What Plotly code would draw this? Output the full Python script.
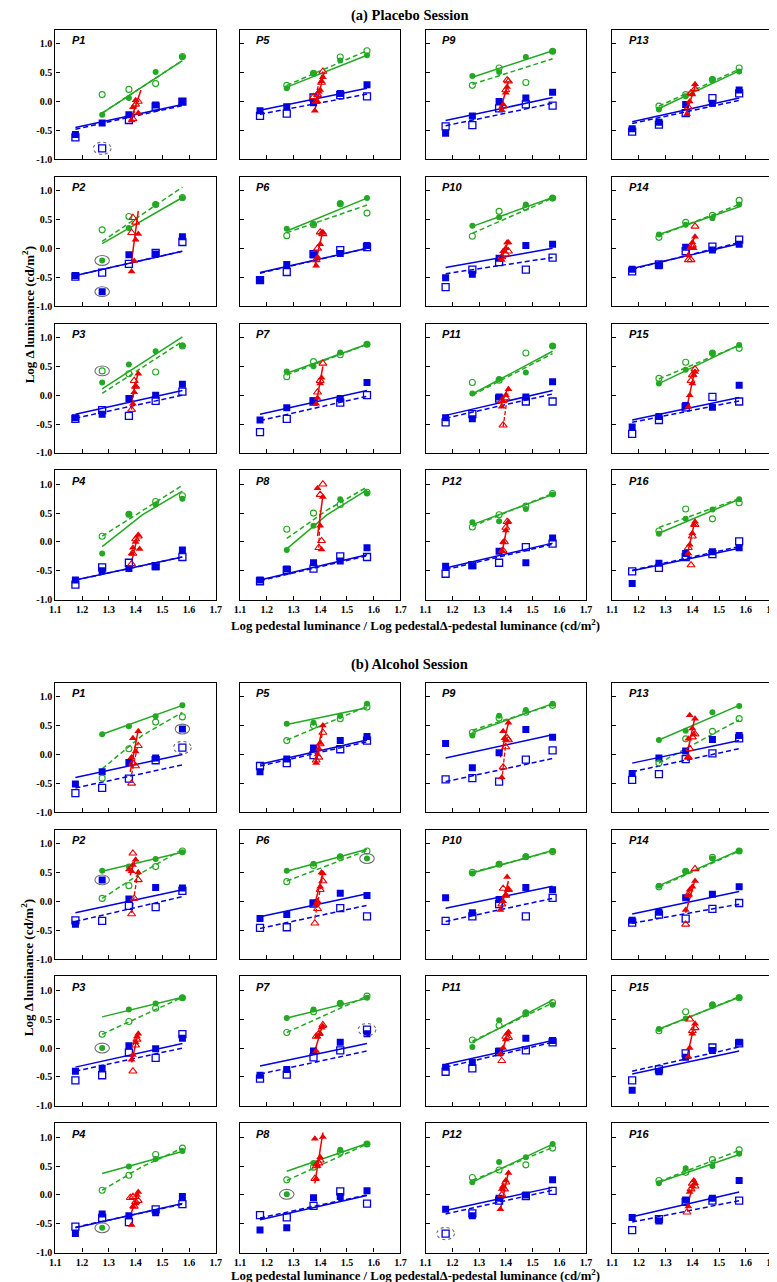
import numpy as np
import plotly.graph_objects as go

# ---------------- data ----------------
X_BLUE = [1.175, 1.275, 1.375, 1.475, 1.575]
X_GREEN = [1.275, 1.375, 1.475, 1.575]
X_TICKS = [1.1, 1.2, 1.3, 1.4, 1.5, 1.6, 1.7]
X_TICK_TEXT = ["1.1", "1.2", "1.3", "1.4", "1.5", "1.6", "1.7"]
Y_TICKS = [-1.0, -0.5, 0.0, 0.5, 1.0]
Y_TICK_TEXT = ["-1.0", "-0.5", "0.0", "0.5", "1.0"]
PANEL_NAMES = ["P%d" % i for i in range(1, 17)]

# ---- Placebo session (P1..P16) ----
GF_PL = [[-0.23, 0.06, 0.51, 0.77], [-0.21, 0.35, 0.76, 0.87], [0.22, 0.53, 0.76, 0.86], [-0.20, 0.48, 0.65, 0.75],
         [0.23, 0.49, 0.71, 0.80], [0.34, 0.42, 0.78, 0.87], [0.41, 0.50, 0.74, 0.88], [-0.14, 0.28, 0.74, 0.84],
         [0.44, 0.51, 0.77, 0.87], [0.39, 0.54, 0.76, 0.87], [0.03, 0.28, 0.39, 0.85], [0.34, 0.36, 0.57, 0.82],
         [-0.14, 0.09, 0.39, 0.52], [0.24, 0.41, 0.52, 0.76], [0.20, 0.44, 0.73, 0.87], [0.14, 0.40, 0.56, 0.74]]
GO_PL = [[0.12, 0.21, 0.31, 0.78], [0.32, 0.55, 0.76, 0.88], [0.42, 0.37, 0.40, 0.85], [0.10, 0.48, 0.70, 0.80],
         [0.28, 0.49, 0.77, 0.88], [0.22, 0.41, 0.77, 0.61], [0.32, 0.58, 0.70, 0.88], [0.22, 0.50, 0.65, 0.86],
         [0.28, 0.58, 0.33, 0.87], [0.21, 0.64, 0.71, 0.87], [0.22, 0.26, 0.73, 0.85], [0.26, 0.47, 0.62, 0.84],
         [-0.08, 0.12, 0.38, 0.58], [0.19, 0.45, 0.57, 0.83], [0.29, 0.57, 0.73, 0.81], [0.19, 0.57, 0.40, 0.68]]
GLS_PL = [[-0.20, 0.71], [0.08, 0.88], [0.11, 1.01], [-0.08, 0.47, 0.88],
          [0.25, 0.80], [0.30, 0.87], [0.38, 0.88], [-0.12, 0.47, 0.90],
          [0.42, 0.88], [0.38, 0.88], [0.02, 0.76], [0.30, 0.82],
          [-0.12, 0.53], [0.24, 0.72], [0.20, 0.87], [0.15, 0.74]]
GLD_PL = [[-0.20, 0.71], [0.12, 1.06], [0.03, 0.93], [0.10, 0.98],
          [0.28, 0.88], [0.27, 0.75], [0.35, 0.88], [0.06, 0.55, 0.95],
          [0.30, 0.74], [0.26, 0.87], [0.00, 0.72], [0.27, 0.84],
          [-0.08, 0.56], [0.22, 0.76], [0.28, 0.86], [0.25, 0.75]]
BF_PL = [[-0.57, -0.37, -0.23, -0.06, 0.00], [-0.47, -0.75, -0.11, -0.10, 0.20], [-0.39, -0.33, -0.06, 0.00, 0.19],
         [-0.66, -0.50, -0.46, -0.43, -0.14], [-0.16, -0.09, -0.02, 0.14, 0.29], [-0.55, -0.28, -0.11, -0.09, 0.05],
         [-0.43, -0.22, -0.10, -0.06, 0.22], [-0.66, -0.47, -0.36, -0.33, -0.10], [-0.55, -0.25, 0.00, 0.06, 0.16],
         [-0.51, -0.45, -0.17, 0.05, 0.07], [-0.39, -0.41, -0.03, -0.03, 0.23], [-0.42, -0.41, -0.16, -0.36, 0.07],
         [-0.47, -0.36, -0.05, -0.03, 0.20], [-0.36, -0.30, 0.02, -0.03, 0.07], [-0.55, -0.37, -0.18, -0.21, 0.17],
         [-0.72, -0.37, -0.20, -0.17, -0.10]]
BO_PL = [[-0.62, -0.81, -0.32, -0.09, 0.00], [-0.49, -0.42, -0.27, -0.08, 0.11], [-0.41, -0.26, -0.36, -0.10, 0.06],
         [-0.74, -0.44, -0.36, -0.42, -0.26], [-0.25, -0.21, 0.07, 0.11, 0.09], [-0.55, -0.41, -0.10, -0.03, 0.02],
         [-0.64, -0.41, -0.11, -0.13, 0.00], [-0.68, -0.49, -0.46, -0.25, -0.26], [-0.43, -0.41, -0.12, -0.05, -0.07],
         [-0.67, -0.37, -0.24, -0.37, -0.16], [-0.47, -0.33, -0.06, -0.11, -0.11], [-0.55, -0.40, -0.36, -0.09, -0.03],
         [-0.52, -0.40, -0.20, 0.06, 0.14], [-0.40, -0.28, -0.05, 0.03, 0.15], [-0.67, -0.43, -0.21, -0.03, -0.11],
         [-0.51, -0.45, -0.26, -0.21, 0.01]]
BLS_PL = [[-0.45, -0.05], [-0.47, -0.05], [-0.33, 0.08], [-0.66, -0.26],
          [-0.15, 0.23], [-0.42, 0.00], [-0.33, 0.08], [-0.66, -0.22],
          [-0.33, 0.07], [-0.33, 0.00], [-0.35, 0.08], [-0.45, -0.02],
          [-0.35, 0.06], [-0.35, 0.08], [-0.43, -0.04], [-0.50, -0.11]]
BLD_PL = [[-0.48, -0.07], [-0.47, -0.05], [-0.40, 0.00], [-0.66, -0.26],
          [-0.22, 0.13], [-0.43, 0.00], [-0.44, -0.02], [-0.67, -0.24],
          [-0.42, -0.03], [-0.44, -0.16], [-0.40, 0.02], [-0.48, -0.04],
          [-0.38, 0.02], [-0.36, 0.10], [-0.47, -0.10], [-0.49, -0.08]]
RFX_PL = [[1.385, 1.39, 1.40, 1.41], [1.385, 1.395, 1.40, 1.41], [1.39, 1.395, 1.40, 1.41], [1.385, 1.39, 1.40, 1.41, 1.415],
          [1.38, 1.39, 1.395, 1.40, 1.405, 1.41], [1.385, 1.39, 1.40, 1.405, 1.41], [1.385, 1.39, 1.40, 1.405], [1.39, 1.40, 1.41, 1.405],
          [1.385, 1.39, 1.40, 1.405], [1.385, 1.39, 1.40, 1.405, 1.41], [1.385, 1.39, 1.40, 1.41], [1.385, 1.39, 1.40, 1.41],
          [1.38, 1.39, 1.40, 1.41], [1.385, 1.39, 1.40, 1.405, 1.41], [1.385, 1.39, 1.40, 1.405, 1.41], [1.385, 1.39, 1.40, 1.405, 1.41]]
RFY_PL = [[-0.33, -0.10, 0.02, -0.20], [-0.40, -0.22, 0.15, 0.25], [-0.15, 0.05, 0.15, 0.37], [-0.20, -0.10, 0.00, 0.12, -0.12],
          [-0.16, 0.00, 0.17, 0.20, 0.35, 0.42], [-0.30, -0.15, 0.07, 0.27, 0.28], [-0.15, -0.05, 0.20, 0.30], [0.93, 0.28, 0.78, -0.13],
          [-0.15, -0.05, 0.15, 0.25], [-0.20, -0.05, 0.00, 0.10, 0.10], [-0.20, -0.10, 0.00, 0.10], [-0.15, 0.00, 0.20, 0.35],
          [-0.22, 0.00, 0.12, 0.30], [-0.12, 0.00, 0.10, 0.00, 0.20], [-0.20, 0.00, 0.20, 0.35, 0.40], [-0.20, -0.05, 0.15, 0.30, 0.35]]
ROX_PL = [[1.39, 1.40, 1.41], [1.385, 1.39, 1.40], [1.385, 1.395, 1.40], [1.385, 1.39, 1.40, 1.41],
          [1.375, 1.385, 1.39, 1.405, 1.41], [1.385, 1.39, 1.40, 1.41], [1.39, 1.40, 1.41], [1.40, 1.41, 1.395, 1.405],
          [1.39, 1.40, 1.405, 1.41], [1.385, 1.40, 1.41], [1.385, 1.39, 1.40], [1.39, 1.395, 1.40, 1.405],
          [1.385, 1.395, 1.41], [1.385, 1.395, 1.41, 1.40], [1.395, 1.40, 1.41], [1.385, 1.395, 1.40, 1.41]]
ROY_PL = [[-0.30, -0.05, 0.00], [0.27, 0.53, 0.45], [-0.25, 0.25, 0.15], [-0.38, -0.20, 0.05, 0.10],
          [0.08, 0.00, 0.12, 0.33, 0.52], [-0.20, 0.00, 0.28, 0.25], [0.05, 0.25, 0.55], [0.82, 1.00, -0.10, 0.02],
          [-0.08, 0.20, 0.37, 0.35], [-0.15, -0.10, -0.05], [-0.10, -0.52, -0.05], [-0.15, 0.00, 0.25, 0.35],
          [-0.10, 0.15, 0.22], [-0.20, -0.20, 0.38, 0.05], [0.25, 0.35, 0.45], [-0.10, -0.40, 0.10, 0.30]]
RLS_PL = [[1.38, -0.35, 1.42, 0.20], [1.385, -0.22, 1.41, 0.65], [1.385, -0.10, 1.41, 0.40], [1.385, -0.35, 1.41, 0.15],
          [1.38, -0.15, 1.415, 0.50], [1.38, -0.30, 1.41, 0.30], [1.385, -0.15, 1.41, 0.50], [1.39, 0.10, 1.41, 0.80],
          [1.38, -0.15, 1.41, 0.35], [1.38, -0.20, 1.41, 0.12], [1.38, -0.20, 1.41, 0.15], [1.385, -0.20, 1.41, 0.38],
          [1.375, -0.22, 1.415, 0.32], [1.38, -0.15, 1.41, 0.22], [1.38, -0.20, 1.41, 0.45], [1.38, -0.25, 1.41, 0.38]]
RLD_PL = [[1.385, -0.33, 1.41, 0.02], [], [1.385, -0.25, 1.40, 0.28], [],
          [1.375, 0.00, 1.41, 0.52], [], [], [1.395, -0.10, 1.40, 0.55],
          [], [], [1.39, -0.55, 1.41, 0.10], [],
          [], [], [], []]
CIRC_PL = [[1, 1.275, -0.81, 1], [2, 1.275, -0.21, 0], [2, 1.275, -0.75, 0], [3, 1.275, 0.42, 0]]

# ---- Alcohol session (P1..P16) ----
GF_AL = [[0.35, 0.49, 0.66, 0.85], [0.53, 0.60, 0.73, 0.85], [0.00, 0.67, 0.77, 0.87], [-0.57, 0.49, 0.62, 0.76],
         [0.53, 0.55, 0.67, 0.88], [0.53, 0.65, 0.78, 0.74], [0.52, 0.67, 0.78, 0.87], [0.01, 0.55, 0.78, 0.88],
         [0.33, 0.67, 0.77, 0.88], [0.48, 0.65, 0.78, 0.87], [0.02, 0.48, 0.62, 0.75], [0.22, 0.57, 0.65, 0.88],
         [0.25, 0.41, 0.73, 0.84], [0.27, 0.52, 0.74, 0.87], [0.33, 0.51, 0.76, 0.88], [0.20, 0.46, 0.50, 0.71]]
GO_AL = [[-0.41, 0.10, 0.56, 0.65], [0.05, 0.27, 0.60, 0.87], [0.24, 0.46, 0.69, 0.87], [0.08, 0.34, 0.70, 0.81],
         [0.24, 0.50, 0.62, 0.82], [0.34, 0.62, 0.76, 0.87], [0.27, 0.63, 0.77, 0.90], [0.26, 0.48, 0.74, 0.88],
         [0.38, 0.63, 0.73, 0.85], [0.50, 0.64, 0.77, 0.86], [0.14, 0.39, 0.60, 0.79], [0.30, 0.43, 0.52, 0.81],
         [-0.15, 0.27, 0.40, 0.62], [0.25, 0.52, 0.76, 0.87], [0.30, 0.63, 0.74, 0.87], [0.25, 0.39, 0.61, 0.78]]
GLS_AL = [[0.35, 0.85], [0.52, 0.85], [0.54, 0.88], [0.37, 0.75],
          [0.52, 0.81], [0.52, 0.90], [0.52, 0.86], [0.41, 0.89],
          [0.38, 0.88], [0.49, 0.88], [0.10, 0.83], [0.22, 0.88],
          [0.25, 0.85], [0.27, 0.88], [0.33, 0.88], [0.22, 0.70]]
GLD_AL = [[-0.25, 0.33, 0.73], [0.05, 0.50, 0.90], [0.24, 0.88], [0.08, 0.49, 0.81],
          [0.25, 0.83], [0.35, 0.88], [0.27, 0.90], [0.25, 0.88],
          [0.42, 0.86], [0.50, 0.87], [0.12, 0.78], [0.25, 0.82],
          [-0.15, 0.60], [0.25, 0.87], [0.32, 0.89], [0.23, 0.77]]
BF_AL = [[-0.51, -0.30, -0.14, -0.06, 0.44], [-0.40, 0.37, 0.04, 0.24, 0.23], [-0.40, -0.35, 0.04, -0.01, 0.17],
         [-0.67, -0.33, -0.36, -0.31, -0.03], [-0.30, -0.08, 0.11, 0.24, 0.31], [-0.30, -0.23, -0.03, 0.14, 0.10],
         [-0.47, -0.37, -0.05, 0.10, 0.25], [-0.61, -0.57, -0.05, -0.03, 0.07], [0.19, -0.23, 0.03, 0.43, 0.30],
         [0.06, -0.20, 0.03, 0.24, 0.20], [-0.33, -0.25, -0.05, 0.17, 0.13], [-0.25, -0.36, -0.06, 0.00, 0.26],
         [-0.33, -0.06, 0.06, 0.26, 0.33], [-0.33, -0.19, 0.06, 0.12, 0.25], [-0.73, -0.41, -0.16, -0.04, 0.10],
         [-0.39, -0.45, -0.09, -0.06, 0.25]]
BO_AL = [[-0.67, -0.58, -0.42, -0.10, 0.12], [-0.33, -0.34, -0.08, -0.10, 0.18], [-0.56, -0.47, -0.08, -0.17, 0.24],
         [-0.55, -0.40, -0.47, -0.25, -0.16], [-0.20, -0.15, -0.01, 0.09, 0.24], [-0.46, -0.45, -0.04, -0.12, -0.26],
         [-0.53, -0.46, -0.16, -0.04, 0.32], [-0.35, -0.39, -0.19, 0.06, -0.15], [-0.43, -0.41, -0.47, -0.09, 0.07],
         [-0.34, -0.26, -0.05, -0.26, 0.06], [-0.41, -0.35, -0.07, -0.04, 0.10], [-0.67, -0.32, -0.10, -0.02, 0.07],
         [-0.44, -0.34, -0.08, 0.02, 0.28], [-0.37, -0.23, -0.30, -0.13, -0.03], [-0.56, -0.37, -0.09, 0.01, 0.08],
         [-0.61, -0.42, -0.12, -0.10, -0.10]]
BLS_AL = [[-0.40, 0.00], [-0.20, 0.20], [-0.33, 0.08], [-0.57, -0.15],
          [-0.17, 0.25], [-0.27, 0.13], [-0.31, 0.08], [-0.43, -0.01],
          [-0.06, 0.34], [-0.12, 0.26], [-0.28, 0.13], [-0.27, 0.13],
          [-0.15, 0.24], [-0.22, 0.17], [-0.45, -0.05], [-0.38, 0.05]]
BLD_AL = [[-0.58, -0.18], [-0.35, 0.08], [-0.40, 0.00], [-0.56, -0.16],
          [-0.20, 0.22], [-0.47, -0.07], [-0.45, -0.05], [-0.40, 0.00],
          [-0.47, -0.07], [-0.35, 0.05], [-0.33, 0.10], [-0.33, 0.08],
          [-0.30, 0.10], [-0.38, -0.05], [-0.40, 0.02], [-0.47, -0.10]]
RFX_AL = [[1.385, 1.39, 1.40, 1.41], [1.375, 1.385, 1.39, 1.40, 1.41], [1.385, 1.39, 1.40, 1.405, 1.41], [1.385, 1.39, 1.40, 1.405, 1.41],
          [1.385, 1.39, 1.395, 1.40, 1.41], [1.385, 1.39, 1.40, 1.405, 1.41], [1.385, 1.39, 1.40, 1.405, 1.41], [1.38, 1.385, 1.39, 1.40, 1.41, 1.385],
          [1.385, 1.39, 1.395, 1.40, 1.41], [1.38, 1.39, 1.40, 1.405, 1.41], [1.38, 1.39, 1.40, 1.405, 1.41], [1.38, 1.385, 1.39, 1.40, 1.41],
          [1.385, 1.39, 1.40, 1.405, 1.41, 1.385], [1.375, 1.385, 1.39, 1.40, 1.41], [1.385, 1.39, 1.40, 1.41], [1.385, 1.39, 1.40, 1.405, 1.41]]
RFY_AL = [[-0.05, 0.28, 0.05, 0.40], [0.55, 0.52, 0.63, 0.72, 0.50], [-0.20, -0.12, 0.10, 0.20, 0.25], [-0.52, -0.20, -0.15, 0.00, 0.05],
          [-0.15, 0.00, 0.10, 0.20, 0.50], [-0.05, 0.00, 0.25, 0.50, 0.48], [-0.05, 0.20, 0.25, 0.35, 0.38], [0.97, 0.53, 0.50, 0.65, 1.00, 0.28],
          [-0.40, 0.40, 0.28, 0.25, 0.55], [-0.15, 0.00, 0.10, 0.42, 0.20], [-0.10, 0.00, 0.15, 0.25, 0.28], [-0.25, 0.10, 0.15, 0.25, 0.38],
          [0.27, 0.68, 0.45, 0.35, 0.62, -0.05], [-0.15, 0.10, 0.20, 0.25, 0.35], [-0.15, 0.00, 0.25, 0.42], [-0.20, 0.05, 0.15, 0.25, 0.20]]
ROX_AL = [[1.385, 1.39, 1.40, 1.41], [1.39, 1.385, 1.395, 1.41], [1.39, 1.40, 1.405], [1.38, 1.39, 1.395, 1.40, 1.41],
          [1.385, 1.395, 1.40, 1.41], [1.38, 1.39, 1.40, 1.41], [1.385, 1.395, 1.41], [1.385, 1.395, 1.40, 1.38],
          [1.39, 1.40, 1.41, 1.405], [1.385, 1.39, 1.40, 1.41], [1.385, 1.40, 1.41], [1.385, 1.395, 1.40],
          [1.385, 1.39, 1.40, 1.41], [1.375, 1.385, 1.41], [1.39, 1.40, 1.41], [1.38, 1.395, 1.40, 1.41]]
ROY_AL = [[-0.50, -0.15, -0.20, 0.15], [0.83, -0.22, 0.05, 0.37], [-0.40, 0.05, 0.15], [-0.05, -0.03, -0.20, -0.12, -0.10],
          [-0.10, -0.05, 0.18, 0.38], [-0.38, -0.13, 0.20, 0.35], [0.20, 0.25, 0.40], [0.50, 0.55, 0.60, 0.28],
          [-0.22, 0.13, 0.25, 0.28], [-0.05, 0.22, 0.10, 0.20], [-0.22, 0.20, 0.18], [0.00, 0.10, 0.22],
          [-0.05, 0.10, 0.30, 0.35], [-0.40, 0.12, 0.56], [0.50, 0.30, 0.35], [-0.30, 0.10, 0.20, 0.15]]
RLS_AL = [[1.38, -0.30, 1.41, 0.42], [1.38, 0.45, 1.40, 0.75], [1.385, -0.25, 1.41, 0.27], [1.385, -0.30, 1.41, 0.07],
          [1.38, -0.15, 1.41, 0.50], [1.38, -0.05, 1.41, 0.50], [1.38, -0.05, 1.41, 0.42], [1.38, 0.20, 1.41, 1.08],
          [1.38, -0.05, 1.41, 0.55], [1.38, -0.15, 1.41, 0.35], [1.38, -0.15, 1.41, 0.30], [1.38, -0.25, 1.41, 0.40],
          [1.38, 0.00, 1.41, 0.65], [1.375, -0.20, 1.41, 0.37], [1.38, -0.15, 1.41, 0.45], [1.38, -0.20, 1.41, 0.28]]
RLD_AL = [[1.385, -0.35, 1.41, 0.20], [1.385, -0.20, 1.41, 0.55], [], [],
          [1.385, -0.12, 1.41, 0.40], [1.38, -0.30, 1.41, 0.45], [], [],
          [1.385, -0.45, 1.40, 0.20], [], [], [],
          [], [], [], []]
CIRC_AL = [[1, 1.575, 0.44, 0], [1, 1.575, 0.12, 1], [2, 1.275, 0.37, 0], [6, 1.575, 0.74, 0],
           [3, 1.275, 0.00, 0], [7, 1.575, 0.32, 1], [4, 1.275, -0.57, 0], [8, 1.275, 0.01, 0],
           [12, 1.175, -0.67, 1]]

# ---------------- styling / layout ----------------
W, H = 777, 1282
COL_LEFT = [42, 229.5, 418, 607.5]
PW, PH = 163, 130
ROW_TOP = {"PL": [22, 169.5, 317, 464.5], "AL": [678, 825.5, 973, 1120.5]}
GREEN = "rgb(34,168,34)"
BLUE = "rgb(0,0,225)"
RED = "rgb(235,0,0)"
SERIF = "Liberation Serif"
SANS = "Liberation Sans"

SESSIONS = {
    "PL": dict(gf=GF_PL, go=GO_PL, gls=GLS_PL, gld=GLD_PL, bf=BF_PL, bo=BO_PL, bls=BLS_PL, bld=BLD_PL,
               rfx=RFX_PL, rfy=RFY_PL, rox=ROX_PL, roy=ROY_PL, rls=RLS_PL, rld=RLD_PL, circ=CIRC_PL),
    "AL": dict(gf=GF_AL, go=GO_AL, gls=GLS_AL, gld=GLD_AL, bf=BF_AL, bo=BO_AL, bls=BLS_AL, bld=BLD_AL,
               rfx=RFX_AL, rfy=RFY_AL, rox=ROX_AL, roy=ROY_AL, rls=RLS_AL, rld=RLD_AL, circ=CIRC_AL),
}

fig = go.Figure()
layout = dict(width=W, height=H, autosize=False, margin=dict(l=0, r=0, t=0, b=0),
              paper_bgcolor="white", plot_bgcolor="white", showlegend=False)
annotations = []
shapes = []
DASH = "5px,3px"


def line_xy(x0, x1, ys):
    xs = np.linspace(x0, x1, len(ys))
    return list(xs), list(ys)


ax = 0
for sess in ["PL", "AL"]:
    d = SESSIONS[sess]
    for i in range(16):
        ax += 1
        col, row = i // 4, i % 4
        left = COL_LEFT[col]
        top = ROW_TOP[sess][row]
        xs = "" if ax == 1 else str(ax)
        xa, ya = "x" + xs, "y" + xs
        layout["xaxis" + xs] = dict(
            domain=[left / W, (left + PW) / W], anchor=ya, range=[1.1, 1.7],
            tickvals=X_TICKS, ticktext=X_TICK_TEXT, ticks="inside", ticklen=4, tickwidth=1, tickcolor="black",
            showticklabels=(row == 3), showline=True, linecolor="black", linewidth=1.3, mirror=True,
            showgrid=False, zeroline=False,
            tickfont=dict(family=SERIF, size=10, color="black", weight="bold"))
        layout["yaxis" + xs] = dict(
            domain=[1 - (top + PH) / H, 1 - top / H], anchor=xa, range=[-1.0, 1.24],
            tickvals=Y_TICKS, ticktext=Y_TICK_TEXT, ticks="inside", ticklen=4, tickwidth=1, tickcolor="black",
            showticklabels=(col == 0), showline=True, linecolor="black", linewidth=1.3, mirror=True,
            showgrid=False, zeroline=False,
            tickfont=dict(family=SERIF, size=10, color="black", weight="bold"))

        # fitted lines
        lx, ly = line_xy(X_GREEN[0], X_GREEN[-1], d["gls"][i])
        fig.add_trace(go.Scatter(x=lx, y=ly, mode="lines", line=dict(color=GREEN, width=1.5), xaxis=xa, yaxis=ya))
        lx, ly = line_xy(X_GREEN[0], X_GREEN[-1], d["gld"][i])
        fig.add_trace(go.Scatter(x=lx, y=ly, mode="lines", line=dict(color=GREEN, width=1.5, dash=DASH), xaxis=xa, yaxis=ya))
        lx, ly = line_xy(X_BLUE[0], X_BLUE[-1], d["bls"][i])
        fig.add_trace(go.Scatter(x=lx, y=ly, mode="lines", line=dict(color=BLUE, width=1.5), xaxis=xa, yaxis=ya))
        lx, ly = line_xy(X_BLUE[0], X_BLUE[-1], d["bld"][i])
        fig.add_trace(go.Scatter(x=lx, y=ly, mode="lines", line=dict(color=BLUE, width=1.5, dash=DASH), xaxis=xa, yaxis=ya))
        r = d["rls"][i]
        fig.add_trace(go.Scatter(x=[r[0], r[2]], y=[r[1], r[3]], mode="lines", line=dict(color=RED, width=1.5),
                                 xaxis=xa, yaxis=ya))
        r = d["rld"][i]
        if r:
            fig.add_trace(go.Scatter(x=[r[0], r[2]], y=[r[1], r[3]], mode="lines",
                                     line=dict(color=RED, width=1.3, dash="4px,2px"), xaxis=xa, yaxis=ya))

        # markers
        fig.add_trace(go.Scatter(x=X_BLUE, y=d["bo"][i], mode="markers",
                                 marker=dict(symbol="square-open", size=7, color=BLUE, line=dict(width=1.3, color=BLUE)),
                                 xaxis=xa, yaxis=ya))
        fig.add_trace(go.Scatter(x=X_BLUE, y=d["bf"][i], mode="markers",
                                 marker=dict(symbol="square", size=7, color=BLUE),
                                 xaxis=xa, yaxis=ya))
        fig.add_trace(go.Scatter(x=X_GREEN, y=d["go"][i], mode="markers",
                                 marker=dict(symbol="circle-open", size=6, color=GREEN, line=dict(width=1.1, color=GREEN)),
                                 xaxis=xa, yaxis=ya))
        fig.add_trace(go.Scatter(x=X_GREEN, y=d["gf"][i], mode="markers",
                                 marker=dict(symbol="circle", size=6, color=GREEN),
                                 xaxis=xa, yaxis=ya))
        fig.add_trace(go.Scatter(x=d["rox"][i], y=d["roy"][i], mode="markers",
                                 marker=dict(symbol="triangle-up-open", size=7, color=RED, line=dict(width=1.1, color=RED)),
                                 xaxis=xa, yaxis=ya))
        fig.add_trace(go.Scatter(x=d["rfx"][i], y=d["rfy"][i], mode="markers",
                                 marker=dict(symbol="triangle-up", size=7, color=RED),
                                 xaxis=xa, yaxis=ya))

        annotations.append(dict(text="<b><i>%s</i></b>" % PANEL_NAMES[i], xref=xa + " domain", yref=ya + " domain",
                                x=0.09, y=0.92, xanchor="left", yanchor="middle", showarrow=False,
                                font=dict(family=SANS, size=11, color="black")))

    for c in d["circ"]:
        p, cx, cy, dotted = c
        n = (0 if sess == "PL" else 16) + p
        xs = "" if n == 1 else str(n)
        rx, ry = (0.033, 0.105) if dotted else (0.027, 0.085)
        shapes.append(dict(type="circle", xref="x" + xs, yref="y" + xs,
                           x0=cx - rx, x1=cx + rx, y0=cy - ry, y1=cy + ry,
                           line=dict(color="rgb(110,110,110)", width=1.1, dash="dot" if dotted else "solid")))

# titles
annotations.append(dict(text="<b>(a) Placebo Session</b>", xref="paper", yref="paper", x=402 / W, y=1 - 8 / H,
                        showarrow=False, xanchor="center", yanchor="middle",
                        font=dict(family=SERIF, size=14.5, color="black")))
annotations.append(dict(text="<b>(b) Alcohol Session</b>", xref="paper", yref="paper", x=402 / W, y=1 - 660 / H,
                        showarrow=False, xanchor="center", yanchor="middle",
                        font=dict(family=SERIF, size=14.5, color="black")))
xtitle = "<b>Log pedestal luminance / Log pedestal\u0394-pedestal luminance (cd/m<sup>2</sup>)</b>"
for yy in [620, 1273]:
    annotations.append(dict(text=xtitle, xref="paper", yref="paper", x=408 / W, y=1 - yy / H,
                            showarrow=False, xanchor="center", yanchor="middle",
                            font=dict(family=SERIF, size=12.8, color="black")))
ytitle = "<b>Log \u0394 luminance (cd/m<sup>2</sup>)</b>"
for yy in [308, 964]:
    annotations.append(dict(text=ytitle, xref="paper", yref="paper", x=14 / W, y=1 - yy / H, textangle=-90,
                            showarrow=False, xanchor="center", yanchor="middle",
                            font=dict(family=SERIF, size=13, color="black")))

layout["annotations"] = annotations
layout["shapes"] = shapes
fig.update_layout(**layout)
fig.write_html("out.html")
